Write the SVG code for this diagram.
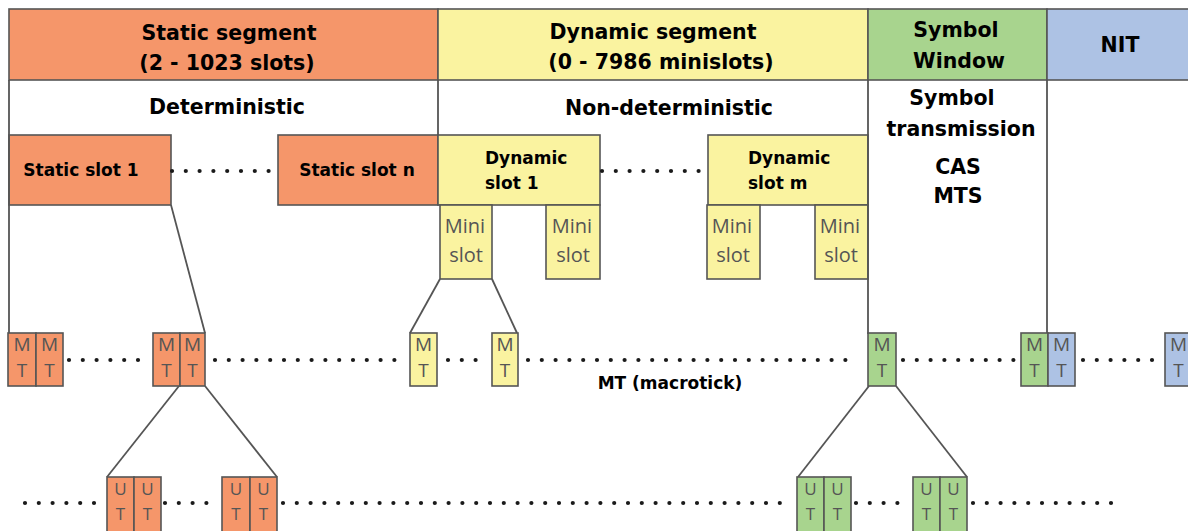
<svg xmlns="http://www.w3.org/2000/svg" width="1188" height="531" viewBox="0 0 1188 531">
<style>
.bd{stroke:#555;stroke-width:1.6}
.or{fill:#F5966A}
.ye{fill:#FAF3A0}
.gr{fill:#A8D48E}
.bl{fill:#ADC2E4}
.hd{font-family:"DejaVu Sans",Verdana,sans-serif;font-weight:bold;font-size:20.5px;fill:#000;text-anchor:middle}
.sl{font-family:"DejaVu Sans",Verdana,sans-serif;font-weight:bold;font-size:17px;fill:#000}
.mn{font-family:"Open Sans","DejaVu Sans",sans-serif;font-size:20px;fill:#555;text-anchor:middle}
.mt{font-family:"Open Sans","DejaVu Sans",sans-serif;font-size:19px;fill:#555;text-anchor:middle}
.ut{font-family:"Open Sans","DejaVu Sans",sans-serif;font-size:17px;fill:#555;text-anchor:middle}
.ln{stroke:#555;stroke-width:1.8;fill:none}
.dot{stroke:#1a1a1a;stroke-width:4.2;stroke-linecap:round;stroke-dasharray:0 13.8;fill:none}
</style>

<g id="headers">
<rect class="or bd" x="9" y="9" width="429" height="71"/>
<rect class="ye bd" x="438" y="9" width="430" height="71"/>
<rect class="gr bd" x="868" y="9" width="179" height="71"/>
<rect class="bl bd" x="1047" y="9" width="145" height="71"/>
<text class="hd" x="229" y="40">Static segment</text>
<text class="hd" x="227" y="70">(2 - 1023 slots)</text>
<text class="hd" x="653" y="39">Dynamic segment</text>
<text class="hd" x="661" y="69">(0 - 7986 minislots)</text>
<text class="hd" x="956" y="37">Symbol</text>
<text class="hd" x="959" y="68">Window</text>
<text class="hd" x="1120" y="52">NIT</text>
</g>

<g id="row2">
<text class="hd" x="227" y="114">Deterministic</text>
<text class="hd" x="669" y="115">Non-deterministic</text>
<text class="hd" x="952" y="105">Symbol</text>
<text class="hd" x="961" y="136">transmission</text>
<text class="hd" x="958" y="174">CAS</text>
<text class="hd" x="958" y="203">MTS</text>
</g>

<g id="static-slot-1">
<rect class="or bd" x="9" y="135" width="162" height="70"/>
<text class="sl" x="81" y="176" text-anchor="middle">Static slot 1</text>
</g>
<g id="static-slot-n">
<rect class="or bd" x="278" y="135" width="160" height="70"/>
<text class="sl" x="357" y="176" text-anchor="middle">Static slot n</text>
</g>
<g id="dynamic-slot-1">
<rect class="ye bd" x="438" y="135" width="162" height="70"/>
<text class="sl" x="485" y="164">Dynamic</text>
<text class="sl" x="485" y="189">slot 1</text>
</g>
<g id="dynamic-slot-m">
<rect class="ye bd" x="708" y="135" width="160" height="70"/>
<text class="sl" x="748" y="164">Dynamic</text>
<text class="sl" x="748" y="189">slot m</text>
</g>

<g id="minislots">
<rect class="ye bd" x="440" y="205" width="52" height="74"/>
<text class="mn" x="465" y="233">Mini</text><text class="mn" x="466" y="262">slot</text>
<rect class="ye bd" x="546" y="205" width="54" height="74"/>
<text class="mn" x="572" y="233">Mini</text><text class="mn" x="573" y="262">slot</text>
<rect class="ye bd" x="707" y="205" width="53" height="74"/>
<text class="mn" x="732" y="233">Mini</text><text class="mn" x="733" y="262">slot</text>
<rect class="ye bd" x="815" y="205" width="53" height="74"/>
<text class="mn" x="840" y="233">Mini</text><text class="mn" x="841" y="262">slot</text>
</g>

<g id="connectors">
<line class="ln" x1="9" y1="80" x2="9" y2="334"/>
<line class="ln" x1="438" y1="80" x2="438" y2="135"/>
<line class="ln" x1="868" y1="80" x2="868" y2="334"/>
<line class="ln" x1="1047" y1="80" x2="1047" y2="334"/>
<line class="ln" x1="171" y1="205" x2="205" y2="333"/>
<line class="ln" x1="440" y1="279" x2="410" y2="333"/>
<line class="ln" x1="492" y1="279" x2="517" y2="333"/>
<line class="ln" x1="179" y1="386" x2="107" y2="477"/>
<line class="ln" x1="205" y1="386" x2="277" y2="477"/>
<line class="ln" x1="869" y1="386" x2="798" y2="477"/>
<line class="ln" x1="896" y1="386" x2="967" y2="477"/>
</g>

<g id="dots">
<line class="dot" x1="172" y1="171" x2="275" y2="171"/>
<line class="dot" x1="602" y1="171" x2="704" y2="171"/>
<line class="dot" x1="69" y1="360" x2="140" y2="360"/>
<line class="dot" x1="215" y1="360" x2="395" y2="360"/>
<line class="dot" x1="448" y1="360" x2="480" y2="360"/>
<line class="dot" x1="528" y1="360" x2="858" y2="360"/>
<line class="dot" x1="903" y1="360" x2="1014" y2="360"/>
<line class="dot" x1="1083" y1="360" x2="1153" y2="360"/>
<line class="dot" x1="25" y1="503" x2="97" y2="503"/>
<line class="dot" x1="165" y1="503" x2="220" y2="503"/>
<line class="dot" x1="283" y1="503" x2="790" y2="503"/>
<line class="dot" x1="856" y1="503" x2="907" y2="503"/>
<line class="dot" x1="973" y1="503" x2="1112" y2="503"/>
</g>

<g id="macroticks">
<rect class="or bd" x="8" y="333" width="28" height="53"/><text class="mt" x="22" y="351">M</text><text class="mt" x="22" y="377">T</text>
<rect class="or bd" x="36" y="333" width="27" height="53"/><text class="mt" x="49.5" y="351">M</text><text class="mt" x="49.5" y="377">T</text>
<rect class="or bd" x="153" y="333" width="27" height="53"/><text class="mt" x="166.5" y="351">M</text><text class="mt" x="166.5" y="377">T</text>
<rect class="or bd" x="180" y="333" width="25" height="53"/><text class="mt" x="192.5" y="351">M</text><text class="mt" x="192.5" y="377">T</text>
<rect class="ye bd" x="410" y="333" width="27" height="53"/><text class="mt" x="423.5" y="351">M</text><text class="mt" x="423.5" y="377">T</text>
<rect class="ye bd" x="492" y="333" width="26" height="53"/><text class="mt" x="505" y="351">M</text><text class="mt" x="505" y="377">T</text>
<rect class="gr bd" x="868" y="333" width="28" height="53"/><text class="mt" x="882" y="351">M</text><text class="mt" x="882" y="377">T</text>
<rect class="gr bd" x="1021" y="333" width="27" height="53"/><text class="mt" x="1034.5" y="351">M</text><text class="mt" x="1034.5" y="377">T</text>
<rect class="bl bd" x="1048" y="333" width="27" height="53"/><text class="mt" x="1061.5" y="351">M</text><text class="mt" x="1061.5" y="377">T</text>
<rect class="bl bd" x="1165" y="333" width="27" height="53"/><text class="mt" x="1178.5" y="351">M</text><text class="mt" x="1178.5" y="377">T</text>
<text class="sl" x="670" y="389" text-anchor="middle">MT (macrotick)</text>
</g>

<g id="microticks">
<rect class="or bd" x="107" y="477" width="27" height="58"/><text class="ut" x="120.5" y="495">U</text><text class="ut" x="120.5" y="520">T</text>
<rect class="or bd" x="134" y="477" width="27" height="58"/><text class="ut" x="147.5" y="495">U</text><text class="ut" x="147.5" y="520">T</text>
<rect class="or bd" x="222" y="477" width="28" height="58"/><text class="ut" x="236" y="495">U</text><text class="ut" x="236" y="520">T</text>
<rect class="or bd" x="250" y="477" width="27" height="58"/><text class="ut" x="263.5" y="495">U</text><text class="ut" x="263.5" y="520">T</text>
<rect class="gr bd" x="797" y="477" width="27" height="58"/><text class="ut" x="810.5" y="495">U</text><text class="ut" x="810.5" y="520">T</text>
<rect class="gr bd" x="824" y="477" width="27" height="58"/><text class="ut" x="837.5" y="495">U</text><text class="ut" x="837.5" y="520">T</text>
<rect class="gr bd" x="913" y="477" width="27" height="58"/><text class="ut" x="926.5" y="495">U</text><text class="ut" x="926.5" y="520">T</text>
<rect class="gr bd" x="940" y="477" width="27" height="58"/><text class="ut" x="953.5" y="495">U</text><text class="ut" x="953.5" y="520">T</text>
</g>
</svg>
